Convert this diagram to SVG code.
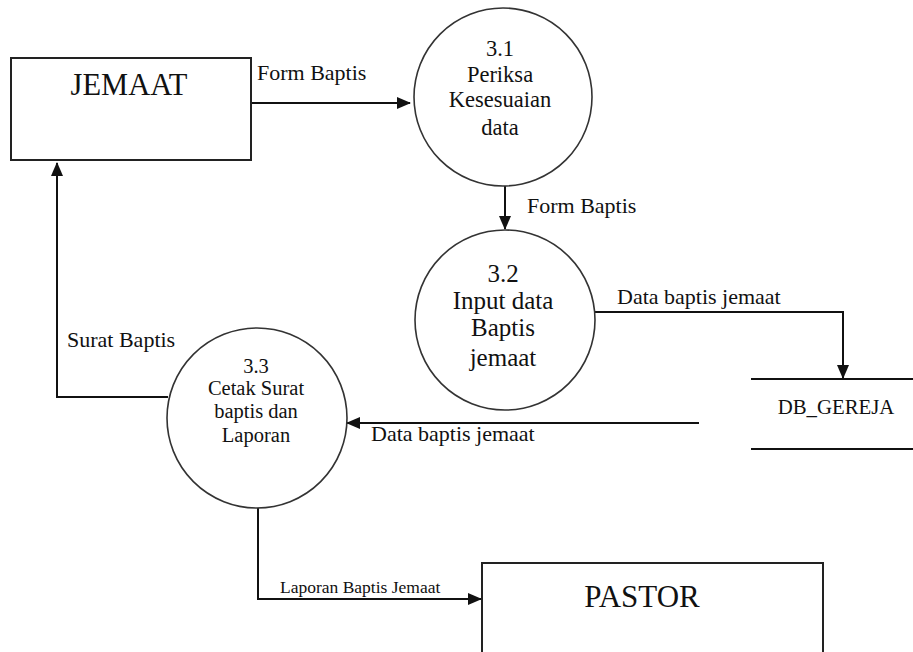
<svg xmlns="http://www.w3.org/2000/svg" width="913" height="652" viewBox="0 0 913 652">
<style>
text{font-family:'Liberation Serif','Times New Roman',serif;fill:#111}
.box{fill:#fff;stroke:#222;stroke-width:2}
.proc{fill:#fff;stroke:#333;stroke-width:1.6}
.line{fill:none;stroke:#111;stroke-width:2}
.lbl{font-size:22px}
.c{text-anchor:middle}
.t31{font-size:22.5px}
.t32{font-size:25px}
.t33{font-size:20.5px}
</style>
<defs>
<marker id="arr" markerUnits="userSpaceOnUse" markerWidth="14" markerHeight="12" refX="13" refY="6" orient="auto">
<path d="M0,0 L14,6 L0,12 Z" fill="#111"/>
</marker>
</defs>
<rect width="913" height="652" fill="#fff"/>
<g id="connectors">
<line class="line" x1="251" y1="103" x2="410" y2="103" marker-end="url(#arr)"/>
<text class="lbl" x="257" y="80">Form Baptis</text>
<line class="line" x1="505" y1="186" x2="505" y2="229" marker-end="url(#arr)"/>
<text class="lbl" x="527" y="213">Form Baptis</text>
<polyline class="line" points="595,312 843,312 843,378" marker-end="url(#arr)"/>
<text class="lbl" x="617" y="304">Data baptis jemaat</text>
<line class="line" x1="699" y1="423" x2="347" y2="423" marker-end="url(#arr)"/>
<text class="lbl" x="371" y="441">Data baptis jemaat</text>
<polyline class="line" points="168,397 57,397 57,163" marker-end="url(#arr)"/>
<text class="lbl" x="67" y="347">Surat Baptis</text>
<polyline class="line" points="258,508 258,599 481,599" marker-end="url(#arr)"/>
<text x="280" y="593" font-size="17.5">Laporan Baptis Jemaat</text>
</g>
<g id="jemaat">
<rect class="box" x="11" y="58" width="240" height="102"/>
<text class="c" x="129" y="95" font-size="30.5">JEMAAT</text>
</g>
<g id="p31">
<circle class="proc" cx="503" cy="97" r="89"/>
<text class="c t31" x="500" y="55.5">3.1</text>
<text class="c t31" x="500" y="81.5">Periksa</text>
<text class="c t31" x="500" y="106.5">Kesesuaian</text>
<text class="c t31" x="500" y="135">data</text>
</g>
<g id="p32">
<circle class="proc" cx="505" cy="320" r="90"/>
<text class="c t32" x="503" y="282">3.2</text>
<text class="c t32" x="503" y="309">Input data</text>
<text class="c t32" x="503" y="336">Baptis</text>
<text class="c t32" x="503" y="366">jemaat</text>
</g>
<g id="p33">
<circle class="proc" cx="257" cy="418" r="90"/>
<text class="c t33" x="256" y="373">3.3</text>
<text class="c t33" x="256" y="395">Cetak Surat</text>
<text class="c t33" x="256" y="417.5">baptis dan</text>
<text class="c t33" x="256" y="441.5">Laporan</text>
</g>
<g id="db_gereja">
<line class="line" x1="751" y1="379" x2="913" y2="379"/>
<line class="line" x1="751" y1="449" x2="913" y2="449"/>
<text class="c" x="836" y="414" font-size="20.8">DB_GEREJA</text>
</g>
<g id="pastor">
<rect class="box" x="482" y="563" width="341" height="100"/>
<text class="c" x="642" y="607" font-size="31">PASTOR</text>
</g>
</svg>
